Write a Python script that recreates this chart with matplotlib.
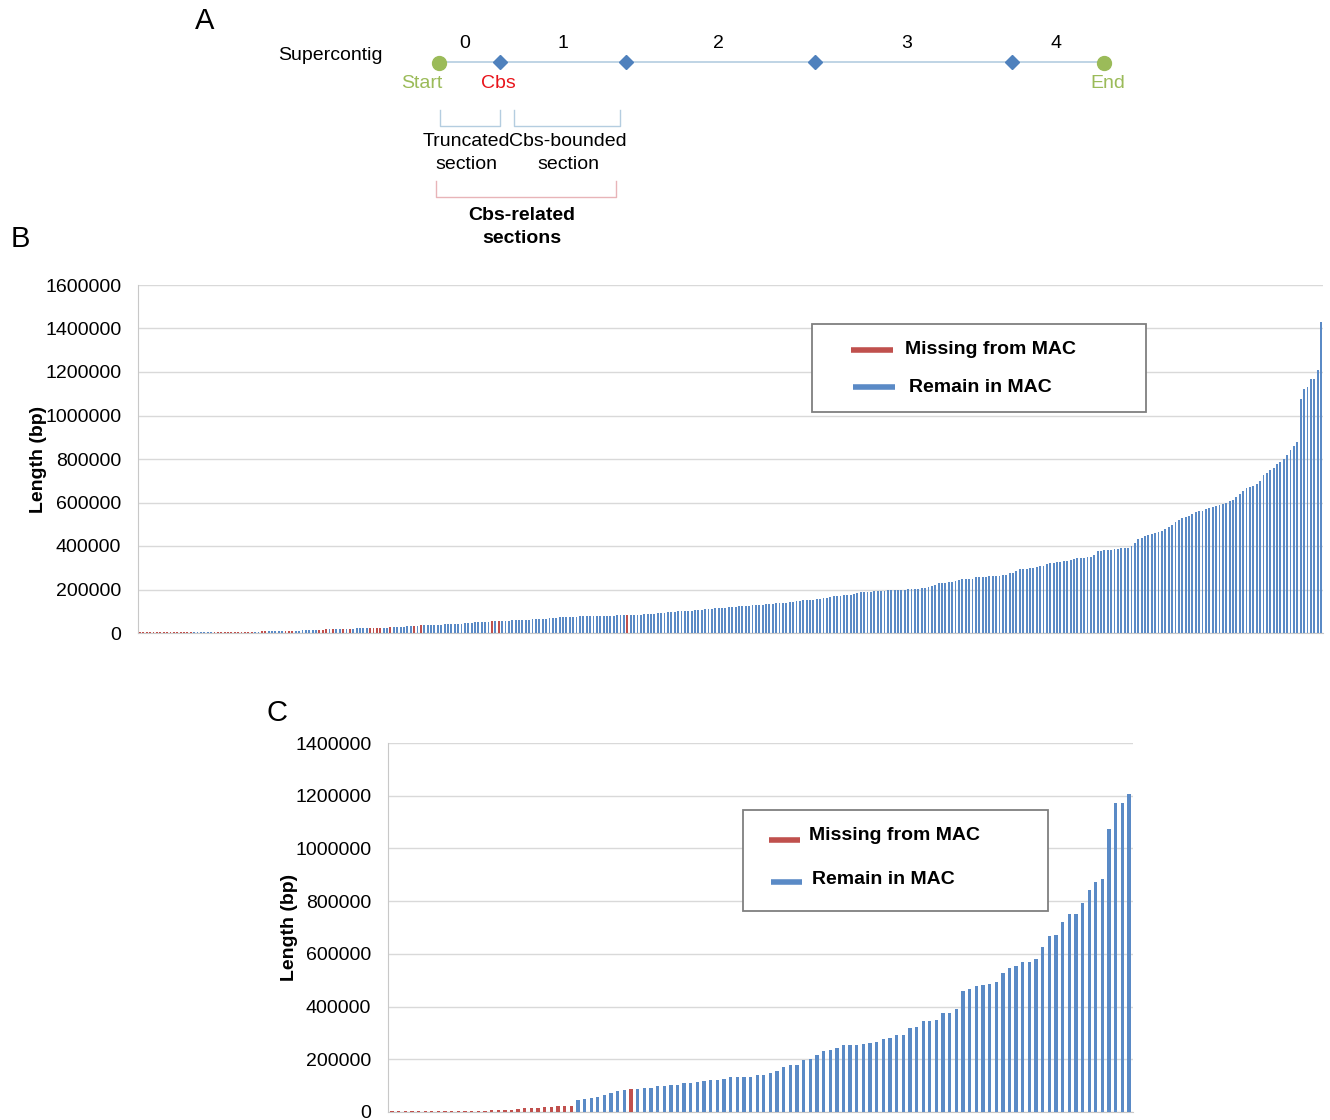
import matplotlib.pyplot as plt
from matplotlib.patches import Rectangle

plt.rcParams['font.family'] = ['Liberation Sans', 'DejaVu Sans']

RED = '#C0504D'
BLUE = '#5A8AC6'

# panel B: all sections sorted by length (kb)
lengths_b_kb = [
    4, 4, 4, 4, 4, 4, 4, 4, 4, 4, 4, 4, 4, 4, 4, 4,
    4, 4, 4, 4, 4, 4,
    5, 5, 5, 5, 5, 5, 5, 5, 6, 6, 6, 6,
    6, 6, 7, 7, 7, 8, 8, 8, 9,
    9, 10, 10, 11, 11, 12, 12, 13, 13, 14,
    15, 16, 17, 18, 19,
    20, 20, 20, 20, 20, 20, 21, 21, 21, 21,
    22, 22, 23, 23, 24, 25, 26, 26, 27, 28,
    28, 30, 31, 32, 33, 35, 37, 37, 38, 38,
    38, 39, 40, 40, 41, 42, 42, 43, 44, 44,
    47, 49, 51, 51, 52, 52, 53, 54, 55, 56,
    57, 57, 58, 58, 59, 60, 60, 61, 63, 64,
    64, 64, 66, 68, 70, 71, 72, 73, 73, 74,
    75, 75, 76, 76, 77, 77, 78, 78, 79, 80,
    80, 80, 80, 81, 81, 81, 81, 82, 83, 84,
    85, 86, 87, 88, 89, 90, 91, 93, 95, 97,
    98, 99, 100, 101, 102, 103, 104, 106, 108, 110,
    111, 112, 113, 114, 115, 117, 118, 120, 121, 123,
    124, 125, 126, 127, 128, 129, 130, 132, 133, 134,
    136, 137, 138, 140, 141, 143, 146, 147, 150, 152,
    153, 154, 155, 156, 160, 163, 165, 168, 170, 172,
    173, 175, 176, 181, 186, 187, 188, 189, 190, 191,
    193, 194, 195, 196, 197, 198, 198, 199, 200, 201,
    201, 202, 203, 205, 207, 210, 216, 222, 230, 231,
    232, 234, 235, 240, 245, 246, 248, 249, 250, 256,
    257, 258, 259, 260, 261, 262, 263, 265, 267, 274,
    278, 285, 293, 294, 296, 297, 299, 302, 306, 310,
    315, 320, 322, 325, 328, 330, 333, 336, 340, 343,
    345, 346, 348, 350, 360, 376, 378, 380, 381, 383,
    385, 388, 389, 390, 391, 402, 414, 432, 436, 445,
    450, 455, 461, 466, 471, 476, 486, 495, 510, 520,
    530, 532, 540, 548, 555, 562, 563, 568, 575, 580,
    585, 589, 595, 600, 605, 610, 627, 640, 652, 666,
    670, 677, 685, 700, 727, 735, 750, 760, 775, 788,
    800, 820, 842, 860, 880, 1076, 1120, 1133, 1170, 1170, 1207, 1432,
]
missing_b = (list(range(0, 16)) + list(range(22, 34)) + [36, 37, 43, 44, 45, 53, 54, 55, 57,
             60, 62, 68, 69, 70, 71, 74, 81, 83, 104, 106, 144])

# panel C: Cbs-related sections (kb)
lengths_c_kb = [
    3, 3, 3, 3, 3, 3, 3, 3, 3, 3, 3, 3, 3, 4, 5, 6, 7, 9, 9, 11, 14, 14, 15, 18, 18, 21, 21, 21,
    44, 51, 55, 57, 64, 72, 78, 82, 86, 88, 91, 91, 98, 100, 102, 103, 110, 110, 114, 119,
    122, 122, 126, 131, 134, 134, 134, 141, 141, 147,
    157, 170, 177, 178, 197, 200, 215, 230, 236, 243, 254, 254, 256, 259, 262, 264, 276, 281,
    292, 294, 320, 322, 344, 345, 349, 374, 377, 390, 460, 468, 477, 483, 485, 494, 526, 547,
    554, 568, 568, 580, 625, 668, 672, 720, 750, 751, 794, 842, 871, 883, 1075, 1171, 1171, 1206,
]
missing_c = list(range(0, 28)) + [36]

legend_labels = ['Missing from MAC', 'Remain in MAC']
yticks_b = list(range(0, 1600001, 200000))
yticks_c = list(range(0, 1400001, 200000))


def bar_panel(ax, kb, missing, width, yticks):
    vals = [v * 1000 for v in kb]
    cols = [RED if i in missing else BLUE for i in range(len(vals))]
    ax.bar(range(len(vals)), vals, width=width, color=cols, linewidth=0, zorder=3)
    ax.set_xlim(-0.6, len(vals) - 0.4)
    ax.set_ylim(0, yticks[-1])
    ax.set_yticks(yticks)
    ax.set_yticklabels([str(t) for t in yticks], fontsize=14)
    ax.set_xticks([])
    ax.tick_params(axis='y', length=0, pad=12)
    ax.grid(axis='y', color='#d9d9d9', linewidth=1, zorder=0)
    for s in ['top', 'right']:
        ax.spines[s].set_visible(False)
    for s in ['left', 'bottom']:
        ax.spines[s].set_color('#c8c8c8')
    ax.set_ylabel('Length (bp)', fontsize=14, fontweight='bold')


W, H = 1330, 1120
fig = plt.figure(figsize=(W / 100, H / 100), dpi=100)

axb = fig.add_axes([138 / W, 1 - 633 / H, (1323 - 138) / W, 348 / H])
bar_panel(axb, lengths_b_kb, missing_b, 0.55, yticks_b)
axb.yaxis.set_label_coords(-0.077, 0.5)

axc = fig.add_axes([388 / W, 1 - 1112 / H, (1133 - 388) / W, 369 / H])
bar_panel(axc, lengths_c_kb, missing_c, 0.5, yticks_c)
axc.yaxis.set_label_coords(-0.121, 0.5)

# overlay in pixel coordinates for the schematic, panel letters and legends
ov = fig.add_axes([0, 0, 1, 1])
ov.set_xlim(0, W)
ov.set_ylim(H, 0)
ov.axis('off')
ov.patch.set_visible(False)

for letter, x, y in [('A', 205, 21), ('B', 20, 239), ('C', 277, 713)]:
    ov.text(x, y, letter, fontsize=21, ha='center', va='center')

# schematic of a supercontig
ov.text(330, 56, 'Supercontig', fontsize=14, ha='center', va='center')
ov.plot([439, 1104], [62, 62], color='#b4cde0', lw=1.2, zorder=1)
ov.plot([439, 1104], [63, 63], 'o', color='#9BBB59', ms=10, zorder=3)
ov.plot([500, 626, 815, 1012], [62] * 4, 'D', color='#4F81BD', ms=7, zorder=3)
for lab, x in zip(['0', '1', '2', '3', '4'], [465, 563, 718, 907, 1056]):
    ov.text(x, 44, lab, fontsize=14, ha='center', va='center')
ov.text(422, 84, 'Start', fontsize=14, color='#9BBB59', ha='center', va='center')
ov.text(498, 84, 'Cbs', fontsize=14, color='#E8141B', ha='center', va='center')
ov.text(1108, 84, 'End', fontsize=14, color='#9BBB59', ha='center', va='center')

for x0, x1 in [(440, 500), (514, 620)]:
    ov.plot([x0, x0, x1, x1], [110, 126, 126, 110], color='#b4cde0', lw=1)
ov.plot([436, 436, 616, 616], [181, 197, 197, 181], color='#e8b4b8', lw=1)
ov.text(466, 153, 'Truncated\nsection', fontsize=14, ha='center', va='center', linespacing=1.5)
ov.text(568, 153, 'Cbs-bounded\nsection', fontsize=14, ha='center', va='center', linespacing=1.5)
ov.text(522, 227, 'Cbs-related\nsections', fontsize=14, fontweight='bold', ha='center',
        va='center', linespacing=1.5)


def box_legend(x, y, w, h, rows):
    ov.add_patch(Rectangle((x, y), w, h, facecolor='white', edgecolor='#7f7f7f', lw=1.3, zorder=5))
    for (lx0, lx1, ly, tx, ty), col, lab in zip(rows, [RED, BLUE], legend_labels):
        ov.plot([lx0, lx1], [ly, ly], color=col, lw=4, solid_capstyle='butt', zorder=6)
        ov.text(tx, ty, lab, fontsize=14, fontweight='bold', ha='left', va='center', zorder=6)


box_legend(812, 324, 334, 88, [(851, 893, 350, 905, 349), (853, 895, 387, 909, 387)])
box_legend(743, 810, 305, 101, [(769, 800, 840, 809, 836), (771, 802, 882, 812, 879)])

fig.savefig('out.png', dpi=100)
